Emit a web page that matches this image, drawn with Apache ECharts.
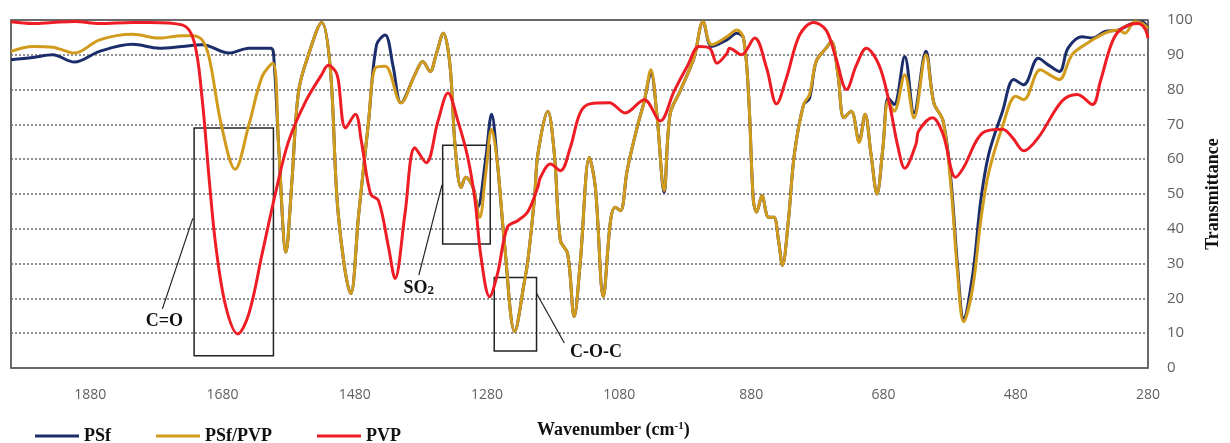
<!DOCTYPE html>
<html>
<head>
<meta charset="utf-8">
<title>FTIR</title>
<script src="https://cdn.jsdelivr.net/npm/echarts@6/dist/echarts.min.js"></script>
<style>
    html, body { margin: 0; padding: 0; background: #fff; }
    #chart { width: 1230px; height: 443px; }
</style>
</head>
<body>
<div id="chart"></div>
<script>
// 波数刻度
var xTicks = [280, 480, 680, 880, 1080, 1280, 1480, 1680, 1880];

// PSf
var psf = [
    [2000, 88.6], [1967, 89.2], [1937, 90], [1904, 87.9], [1866, 91], [1816, 93], [1776, 91.9],
    [1741, 92.4], [1711, 92.9], [1670, 90.5], [1640, 91.9], [1607, 91.9], [1602, 88],
    [1595, 63.3], [1584, 33.3], [1575, 53.8], [1565, 79.5], [1550, 90], [1530, 99.3], [1517, 86.2],
    [1505, 44.3], [1486, 21.4], [1474, 44.3], [1459, 71], [1447, 92.9], [1434, 95.7], [1422, 86.7],
    [1410, 76.2], [1389, 84.3], [1377, 88.1], [1366, 85.2], [1357, 90], [1346, 96.2], [1336, 87.1],
    [1328, 63.3], [1319, 51.9], [1312, 54.8], [1301, 51.9], [1294, 46.2], [1282, 60], [1273, 72.9],
    [1264, 58.6], [1253, 34.8], [1238, 10.5], [1223, 25.2], [1218, 31], [1208, 49], [1203, 61.4],
    [1188, 73.8], [1178, 61.4], [1169, 36.7], [1158, 32.9], [1148, 14.8], [1139, 30], [1125, 60.5],
    [1116, 51.9], [1104, 20.5], [1093, 42.4], [1086, 46.2], [1078, 45.2], [1068, 56.7], [1053, 69],
    [1042, 76.7], [1032, 84.8], [1023, 72.9], [1012, 50.5], [1003, 72.9], [988, 79.5], [967, 89],
    [953, 99.5], [940, 92.4], [917, 94.3], [902, 96.2], [892, 94.8], [884, 77.6], [877, 48.1],
    [872, 44.8], [864, 49.5], [854, 43.3], [846, 43.3], [839, 36.7], [833, 29.5], [824, 42.4],
    [815, 61.4], [801, 75.7], [792, 77.5], [782, 88.1], [767, 91.9], [759, 93.8], [749, 84.3],
    [740, 71.9], [729, 73.8], [717, 65.2], [708, 72.9], [699, 61.4], [690, 50], [681, 63.3],
    [673, 77.6], [664, 75.7], [648, 89.5], [634, 73.3], [616, 91], [604, 76.2], [590, 71],
    [578, 53.8], [568, 29], [559, 14.3], [545, 27.1], [533, 48.1], [521, 61.4], [500, 73.8],
    [483, 82.9], [468, 81.4], [446, 89], [431, 87.1], [414, 85.2], [401, 91.9], [380, 95.2],
    [364, 94.8], [345, 96.7], [325, 97.1], [304, 99], [289, 99.5], [280, 97.6]
];

// PSf/PVP
var psfPvp = [
    [2000, 91], [1967, 92.4], [1937, 92.2], [1904, 90.5], [1866, 94.3], [1816, 95.9], [1776, 94.8],
    [1741, 95.5], [1726, 95.5], [1711, 94.3], [1700, 89], [1682, 70], [1661, 57.1], [1640, 70],
    [1620, 83.8], [1604, 87.6], [1595, 63.3], [1584, 33.3], [1575, 53.8], [1565, 79.5], [1550, 90],
    [1530, 99.3], [1517, 86.2], [1505, 44.3], [1486, 21.4], [1474, 44.3], [1459, 71], [1449, 86.2],
    [1434, 86.7], [1410, 76.2], [1389, 84.3], [1377, 88.1], [1366, 85.2], [1357, 90], [1346, 96.2],
    [1336, 87.1], [1328, 63.3], [1319, 51.9], [1312, 54.8], [1301, 51.9], [1291, 43.3], [1282, 55.7],
    [1273, 68.6], [1264, 58.6], [1253, 34.8], [1238, 10.5], [1223, 25.2], [1218, 31], [1208, 49],
    [1203, 61.4], [1188, 73.8], [1178, 61.4], [1169, 36.7], [1158, 32.9], [1148, 14.8], [1139, 30],
    [1125, 60.5], [1116, 51.9], [1104, 20.5], [1093, 42.4], [1086, 46.2], [1078, 45.2], [1068, 56.7],
    [1053, 69], [1042, 76.7], [1032, 85.7], [1023, 72.9], [1012, 51], [1003, 72.9], [988, 79.5],
    [967, 89], [953, 99.5], [940, 92.9], [917, 95.2], [902, 97.1], [892, 94.8], [884, 77.6],
    [877, 48.1], [872, 44.8], [864, 49.5], [854, 43.3], [846, 43.3], [839, 36.7], [833, 29.5],
    [824, 42.4], [815, 61.4], [801, 75.7], [792, 78.6], [782, 88.1], [767, 91.9], [759, 93.8],
    [749, 84.3], [740, 71.9], [729, 73.8], [717, 64.8], [708, 72.9], [699, 61.4], [690, 50],
    [681, 63.3], [673, 76.7], [664, 73.8], [648, 84.3], [634, 71.9], [616, 90], [604, 76.2],
    [590, 71], [578, 51.9], [568, 27.1], [559, 13.3], [545, 23.3], [533, 42.4], [521, 56.1],
    [500, 69.5], [480, 78.1], [468, 77.1], [443, 85.7], [425, 83.8], [414, 82.9], [395, 90],
    [372, 93.3], [345, 96.2], [325, 97.1], [315, 96.2], [300, 99.5], [288, 99], [280, 97.6]
];

// PVP
var pvp = [
    [2000, 99.5], [1967, 99], [1937, 99.3], [1904, 99.6], [1866, 99], [1816, 99.3], [1791, 99.3],
    [1741, 98.6], [1723, 93.8], [1711, 77.6], [1700, 53.8], [1690, 34.8], [1675, 17.6], [1657, 9.8],
    [1640, 15.7], [1620, 32.9], [1599, 51], [1580, 65.2], [1554, 76.7], [1530, 84.3], [1520, 87],
    [1509, 85.2], [1505, 82.9], [1494, 69], [1479, 72.9], [1470, 65.2], [1456, 50], [1444, 48.1],
    [1429, 34.8], [1419, 25.7], [1404, 44.3], [1389, 63.3], [1372, 59], [1354, 71], [1339, 79],
    [1324, 71], [1309, 60.5], [1298, 48.1], [1289, 31.9], [1276, 20.5], [1264, 27.1], [1249, 40.5],
    [1233, 42.4], [1218, 45], [1203, 52], [1199, 54.8], [1184, 58.6], [1169, 56.7], [1154, 63.3],
    [1139, 73.3], [1124, 75.9], [1095, 76.2], [1071, 73.3], [1042, 77.1], [1018, 71], [997, 79.5],
    [977, 86.7], [959, 92.4], [943, 91.9], [932, 87.6], [917, 90.4], [913, 91.9], [895, 90],
    [875, 94.8], [857, 86.2], [842, 75.9], [827, 83.3], [807, 95.7], [786, 99.3], [767, 97.1],
    [752, 89], [736, 80], [721, 87.1], [706, 91.9], [687, 87.1], [672, 76.7], [658, 63.3],
    [648, 57.4], [631, 64.3], [627, 68.1], [606, 71.9], [590, 67.1], [571, 54.8], [559, 57.6],
    [530, 67.6], [500, 68.6], [485, 66.2], [468, 62.4], [446, 66.2], [410, 76.7], [387, 78.6],
    [364, 75.7], [352, 82.4], [334, 93.8], [319, 97.6], [295, 99], [285, 97.6], [280, 94.8]
];

// 标注框 [x1, y1, x2, y2]
var boxes = [
    [1723, 69, 1603, 3.5],
    [1347, 64, 1275, 35.6],
    [1269, 26, 1205, 4.9]
];
// 引线
var leaders = [
    [1725, 43, 1771, 17],
    [1348, 52.6, 1383, 26.7],
    [1205, 21.5, 1163, 7.2]
];
// 标注文字
var notes = [
    { x: 1768, y: 13.5, text: 'C=O' },
    { x: 1383, y: 23, text: 'SO{s|2}' },
    { x: 1115, y: 4.6, text: 'C-O-C' }
];

var serif = '"Liberation Serif", "DejaVu Serif", serif';
var colors = ['#1c2d6b', '#d19b1c', '#ee1c24'];

var myChart = echarts.init(document.getElementById('chart'));

var option = {
    animation: false,
    color: colors,
    grid: {
        left: 11,
        right: 77,
        top: 20,
        bottom: 75,
        show: true,
        borderColor: '#3a3a3a',
        borderWidth: 1.5,
        backgroundColor: '#fff'
    },
    legend: {
        data: ['PSf', 'PSf/PVP', 'PVP'],
        left: 30,
        top: 422,
        icon: 'rect',
        itemWidth: 44,
        itemHeight: 3,
        itemGap: 45,
        textStyle: {
            fontFamily: serif,
            fontWeight: 'bold',
            fontSize: 18,
            color: '#111'
        }
    },
    graphic: [{
        type: 'text',
        left: 537,
        top: 421,
        style: {
            text: 'Wavenumber (cm{sup|-1})',
            fontFamily: serif,
            fontWeight: 'bold',
            fontSize: 18,
            fill: '#111',
            rich: {
                sup: {
                    fontFamily: serif,
                    fontWeight: 'bold',
                    fontSize: 11,
                    verticalAlign: 'top',
                    fill: '#111'
                }
            }
        }
    }],
    xAxis: {
        type: 'value',
        inverse: true,
        min: 280,
        max: 2000,
        splitLine: { show: false },
        axisLine: { show: false },
        axisTick: { show: false },
        axisLabel: {
            customValues: xTicks,
            formatter: function(v) {
                return String(v);
            },
            margin: 20,
            color: '#606060',
            fontFamily: '"Open Sans", sans-serif',
            fontSize: 14
        }
    },
    yAxis: {
        type: 'value',
        position: 'right',
        min: 0,
        max: 100,
        interval: 10,
        name: 'Transmittance',
        nameLocation: 'middle',
        nameRotate: 90,
        nameGap: 56,
        nameTextStyle: {
            fontFamily: serif,
            fontWeight: 'bold',
            fontSize: 18,
            color: '#111'
        },
        axisLine: { show: false },
        axisTick: { show: false },
        axisLabel: {
            margin: 19,
            color: '#606060',
            fontFamily: '"Open Sans", sans-serif',
            fontSize: 15
        },
        splitLine: {
            lineStyle: {
                color: '#6a6a6a',
                width: 1.5,
                type: [2, 2]
            }
        }
    },
    series: [{
        name: 'PSf',
        type: 'line',
        data: psf,
        smooth: 0.35,
        showSymbol: false,
        lineStyle: { width: 3 }
    }, {
        name: 'PSf/PVP',
        type: 'line',
        data: psfPvp,
        smooth: 0.35,
        showSymbol: false,
        lineStyle: { width: 3 }
    }, {
        name: 'PVP',
        type: 'line',
        data: pvp,
        smooth: 0.35,
        showSymbol: false,
        lineStyle: { width: 3 },
        markArea: {
            silent: true,
            itemStyle: {
                color: 'rgba(0,0,0,0)',
                borderColor: '#222',
                borderWidth: 1.5
            },
            data: boxes.map(function(b) {
                return [{ coord: [b[0], b[1]] }, { coord: [b[2], b[3]] }];
            })
        },
        markLine: {
            silent: true,
            symbol: 'none',
            label: { show: false },
            lineStyle: { color: '#222', width: 1.2, type: 'solid' },
            data: leaders.map(function(l) {
                return [{ coord: [l[0], l[1]] }, { coord: [l[2], l[3]] }];
            })
        },
        markPoint: {
            silent: true,
            symbol: 'circle',
            symbolSize: 0,
            data: notes.map(function(n) {
                return {
                    coord: [n.x, n.y],
                    label: {
                        show: true,
                        position: 'inside',
                        formatter: n.text,
                        fontFamily: serif,
                        fontWeight: 'bold',
                        fontSize: 18,
                        color: '#111',
                        rich: {
                            s: {
                                fontFamily: serif,
                                fontWeight: 'bold',
                                fontSize: 13,
                                verticalAlign: 'bottom',
                                color: '#111'
                            }
                        }
                    }
                };
            })
        }
    }]
};

myChart.setOption(option);
</script>
</body>
</html>
